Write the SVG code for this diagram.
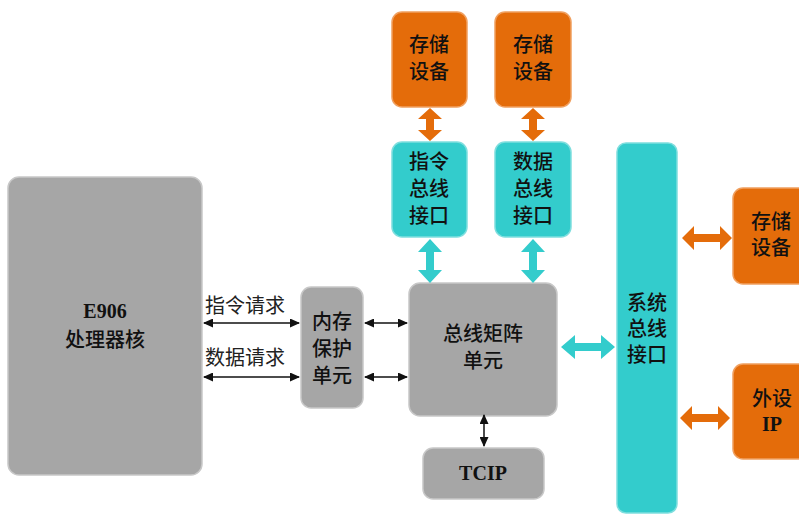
<svg xmlns="http://www.w3.org/2000/svg" width="799" height="514" viewBox="0 0 799 514">
<style>
.gray{fill:#a6a6a6;stroke:#c8c8c8;stroke-width:1.5}
.org{fill:#e46c0a;stroke:#f0a060;stroke-width:1.5}
.teal{fill:#33cccc;stroke:#7fdede;stroke-width:1.5}
.t{font-family:"Liberation Serif","Noto Sans CJK SC",serif;font-size:20px;font-weight:500;fill:#111;text-anchor:middle}
.b{font-weight:bold}
.lbl{font-family:"Liberation Serif","Noto Sans CJK SC",serif;font-size:20px;fill:#222}
.thin{stroke:#111;stroke-width:1.5;fill:none;marker-start:url(#ah);marker-end:url(#ah)}
.oa{fill:#e46c0a}
.ta{fill:#33cccc}
</style>
<defs>
<marker id="ah" viewBox="0 0 10 10" refX="9" refY="5" markerWidth="10" markerHeight="9" orient="auto-start-reverse" markerUnits="userSpaceOnUse" preserveAspectRatio="none">
<path d="M0,0 L10,5 L0,10 z" fill="#111"/>
</marker>
</defs>

<g id="cpu">
<rect class="gray" x="8" y="177" width="194" height="298" rx="11"/>
<text class="t b" x="105" y="318">E906</text>
<text class="t" x="105" y="347">处理器核</text>
</g>

<g id="mpu">
<rect class="gray" x="301" y="287" width="62" height="121" rx="10"/>
<text class="t" x="332" y="329">内存</text>
<text class="t" x="332" y="356">保护</text>
<text class="t" x="332" y="383">单元</text>
</g>

<g id="matrix">
<rect class="gray" x="409" y="283" width="148" height="133" rx="11"/>
<text class="t" x="483" y="341">总线矩阵</text>
<text class="t" x="483" y="368">单元</text>
</g>

<g id="tcip">
<rect class="gray" x="423" y="448" width="121" height="51" rx="10"/>
<text class="t b" x="483" y="480">TCIP</text>
</g>

<g id="store1">
<rect class="org" x="392" y="12" width="75" height="95" rx="10"/>
<text class="t" x="429" y="52">存储</text>
<text class="t" x="429" y="79">设备</text>
</g>

<g id="store2">
<rect class="org" x="495" y="12" width="76" height="95" rx="10"/>
<text class="t" x="533" y="52">存储</text>
<text class="t" x="533" y="79">设备</text>
</g>

<g id="ibus">
<rect class="teal" x="392" y="142" width="75" height="95" rx="10"/>
<text class="t" x="429" y="169">指令</text>
<text class="t" x="429" y="196">总线</text>
<text class="t" x="429" y="223">接口</text>
</g>

<g id="dbus">
<rect class="teal" x="495" y="142" width="76" height="95" rx="10"/>
<text class="t" x="533" y="169">数据</text>
<text class="t" x="533" y="196">总线</text>
<text class="t" x="533" y="223">接口</text>
</g>

<g id="sysbus">
<rect class="teal" x="617" y="143" width="60" height="370" rx="9"/>
<text class="t" x="647" y="310">系统</text>
<text class="t" x="647" y="336">总线</text>
<text class="t" x="647" y="362">接口</text>
</g>

<g id="store3">
<rect class="org" x="733" y="188" width="80" height="96" rx="10"/>
<text class="t" x="771" y="229">存储</text>
<text class="t" x="771" y="255">设备</text>
</g>

<g id="periph">
<rect class="org" x="733" y="364" width="80" height="95" rx="10"/>
<text class="t" x="772" y="406">外设</text>
<text class="t b" x="772" y="431">IP</text>
</g>

<g id="labels">
<text class="lbl" x="205" y="313">指令请求</text>
<text class="lbl" x="205" y="365">数据请求</text>
</g>

<g id="connectors">
<line class="thin" x1="204" y1="323" x2="299" y2="323"/>
<line class="thin" x1="204" y1="377" x2="299" y2="377"/>
<line class="thin" x1="365" y1="323" x2="407" y2="323"/>
<line class="thin" x1="365" y1="377" x2="407" y2="377"/>
<line class="thin" x1="484" y1="415" x2="484" y2="446"/>
<polygon class="oa" points="430,108 442,119 434,119 434,130 442,130 430,141 418,130 426,130 426,119 418,119"/>
<polygon class="oa" points="533,108 545,119 537,119 537,130 545,130 533,141 521,130 529,130 529,119 521,119"/>
<polygon class="ta" points="430,239 442,252 434,252 434,270 442,270 430,283 418,270 426,270 426,252 418,252"/>
<polygon class="ta" points="533,239 545,252 537,252 537,270 545,270 533,283 521,270 529,270 529,252 521,252"/>
<polygon class="ta" points="561,347 575,335 575,343 601,343 601,335 615,347 601,359 601,351 575,351 575,359"/>
<polygon class="oa" points="682,238 694,226 694,234 720,234 720,226 732,238 720,250 720,242 694,242 694,250"/>
<polygon class="oa" points="680,418 692,406 692,414 718,414 718,406 730,418 718,430 718,422 692,422 692,430"/>
</g>
</svg>
